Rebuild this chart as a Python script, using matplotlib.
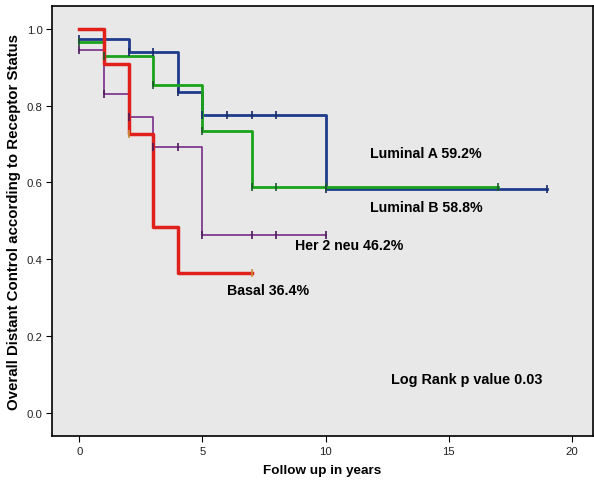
import numpy as np
import matplotlib.pyplot as plt

plt.rcParams['font.family'] = ['Liberation Sans', 'DejaVu Sans']

# step curves (time in years, cumulative control)
lumA_t = [0, 2, 4, 5, 10, 19]
lumA_s = [0.973, 0.940, 0.835, 0.775, 0.582, 0.582]
lumA_cens = [0, 2, 3, 4, 5, 6, 7, 8, 10, 19]

lumB_t = [0, 1, 3, 5, 7, 17]
lumB_s = [0.965, 0.928, 0.855, 0.733, 0.588, 0.588]
lumB_cens = [0, 1, 3, 5, 7, 8, 10, 17]

her2_t = [0, 1, 2, 3, 5, 10]
her2_s = [0.946, 0.830, 0.770, 0.693, 0.462, 0.462]
her2_cens = [0, 1, 2, 3, 4, 5, 7, 8, 10]

basal_t = [0, 1, 2, 3, 4, 7]
basal_s = [1.0, 0.909, 0.727, 0.485, 0.364, 0.364]
basal_cens = [2, 7]

labels = ['Luminal A 59.2%', 'Luminal B 58.8%', 'Her 2 neu 46.2%', 'Basal 36.4%']
label_xy = [(11.8, 0.676), (11.8, 0.536), (8.75, 0.438), (6.0, 0.319)]


def step_val(t, s, x):
    i = np.searchsorted(t, x, side='right') - 1
    return s[i]


fig = plt.figure(figsize=(5.94, 4.85), dpi=100)
ax = fig.add_axes([0.088, 0.099, 0.91, 0.887])
ax.set_facecolor('#e8e8e8')

curves = [
    (lumA_t, lumA_s, lumA_cens, '#1f3c8c', 2.0, '#1a2a6a'),
    (lumB_t, lumB_s, lumB_cens, '#1aa31a', 2.0, '#1a5a2a'),
    (her2_t, her2_s, her2_cens, '#7a2c8a', 1.2, '#4a1a5a'),
    (basal_t, basal_s, basal_cens, '#e0201b', 2.5, '#c8903a'),
]

for t, s, cens, col, lw, mcol in curves:
    ax.step(t, s, where='post', color=col, lw=lw, zorder=3)
    cy = [step_val(t, s, c) for c in cens]
    ax.plot(cens, cy, ls='none', marker='|', ms=5.5, mew=1.2, color=mcol, zorder=4)

for lab, (x, y) in zip(labels, label_xy):
    ax.text(x, y, lab, fontsize=10.2, fontweight='bold', va='center', ha='left')

ax.text(12.65, 0.088, 'Log Rank p value 0.03', fontsize=10.4, fontweight='bold',
        va='center', ha='left')

ax.set_xlim(-1.1, 20.85)
ax.set_ylim(-0.06, 1.06)
ax.set_xticks([0, 5, 10, 15, 20])
ax.set_yticks([0.0, 0.2, 0.4, 0.6, 0.8, 1.0])
ax.set_yticklabels(['0.0', '0.2', '0.4', '0.6', '0.8', '1.0'])
ax.tick_params(labelsize=8.2, labelcolor='#222222', length=4.5, pad=2.5,
               direction='out')
for sp in ax.spines.values():
    sp.set_linewidth(1.2)

ax.set_xlabel('Follow up in years', fontsize=9.7, fontweight='bold', labelpad=6)
ax.set_ylabel('Overall Distant Control according to Receptor Status',
              fontsize=10.8, fontweight='bold')
ax.yaxis.set_label_coords(-0.057, 0.5)

fig.savefig('out.png', dpi=100)
